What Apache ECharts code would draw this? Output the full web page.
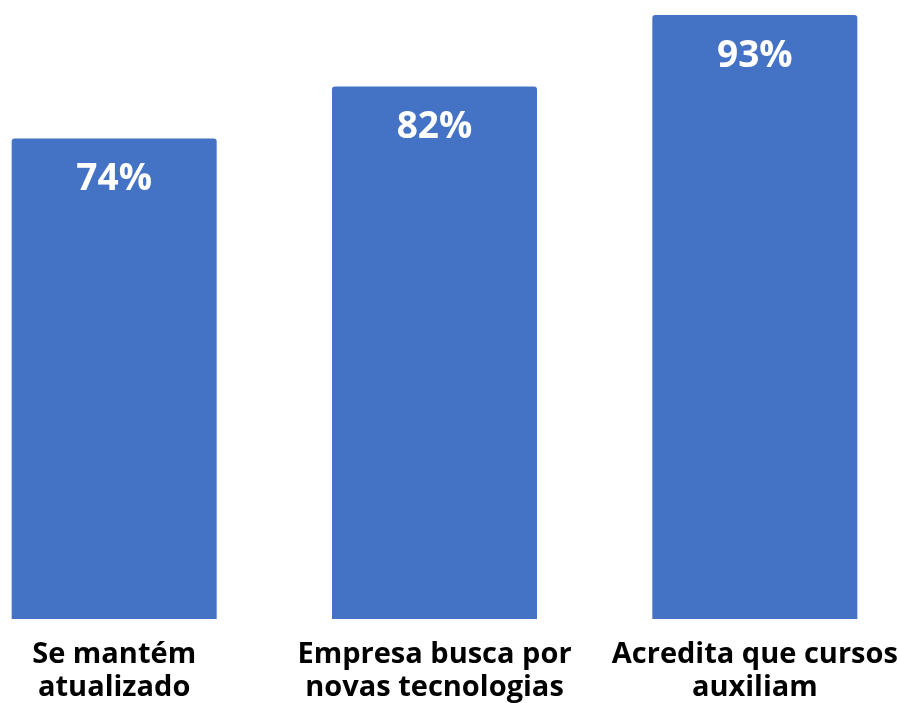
<!DOCTYPE html>
<html>
<head>
<meta charset="utf-8">
<script src="https://cdn.jsdelivr.net/npm/echarts@6/dist/echarts.min.js"></script>
<style>
  html, body { margin: 0; padding: 0; background: #ffffff; }
  #chart { width: 898px; height: 703px; }
</style>
</head>
<body>
<div id="chart"></div>
<script>
// Survey answers and their shares (%)
const categories = ['Se mantém\natualizado', 'Empresa busca por\nnovas tecnologias', 'Acredita que cursos\nauxiliam'];
const values = [74, 82, 93];

const chart = echarts.init(document.getElementById('chart'), null, { renderer: 'canvas' });

chart.setOption({
  animation: false,
  grid: { left: -46, right: -17, top: 2, bottom: 84, outerBoundsMode: 'none', containLabel: false },
  xAxis: {
    type: 'category',
    data: categories,
    axisLine: { show: false },
    axisTick: { show: false },
    axisLabel: {
      interval: 0,
      margin: 19,
      color: '#000000',
      fontFamily: 'Open Sans',
      fontWeight: 'bold',
      fontSize: 29,
      lineHeight: 33
    }
  },
  yAxis: {
    type: 'value',
    min: 0,
    max: 95,
    show: false,
    splitLine: { show: false }
  },
  series: [{
    type: 'bar',
    data: values,
    barWidth: '64%',
    itemStyle: { color: '#4472C4', borderRadius: [3, 3, 0, 0] },
    label: {
      show: true,
      position: 'insideTop',
      distance: 23,
      formatter: '{c}%',
      color: '#ffffff',
      fontFamily: 'Open Sans',
      fontWeight: 'bold',
      fontSize: 37
    }
  }]
});
</script>
</body>
</html>
